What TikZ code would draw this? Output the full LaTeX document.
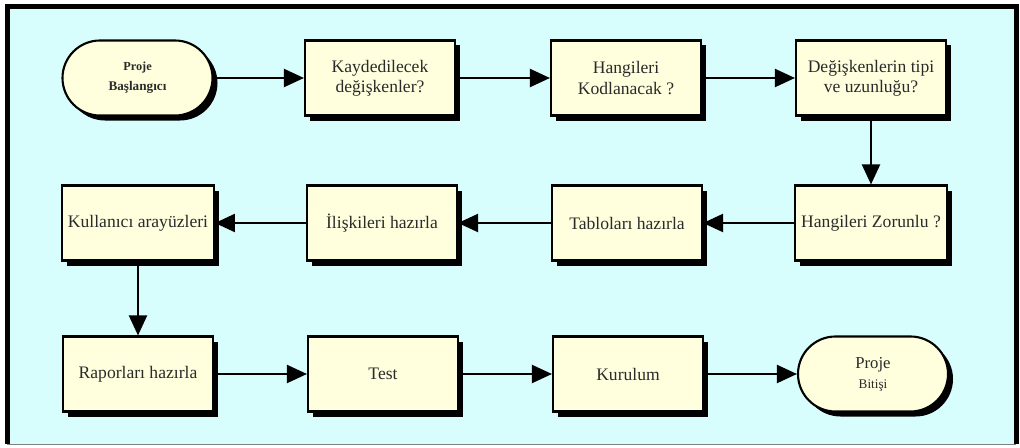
\documentclass[tikz,border=0pt]{standalone}
\usepackage{fontspec}
\setmainfont{Liberation Serif}
\usepackage{xcolor}
\definecolor{fond}{HTML}{D8FDFD}
\definecolor{krem}{HTML}{FFFFDE}
\definecolor{yazi}{HTML}{2A2A2A}
\usepackage{tikz}
\usetikzlibrary{arrows.meta,shadows}

\begin{document}
\begin{tikzpicture}[
  kutu/.style={draw=black,fill=krem,line width=1.2pt,minimum width=3cm,minimum height=1.5cm,
    font=\fontsize{10}{11.5}\selectfont,text=yazi,align=center,
    general shadow={fill=black,shadow xshift=0.1cm,shadow yshift=-0.1cm}},
  uc/.style={kutu,rounded corners=0.75cm},
  ok/.style={-{Triangle[length=4mm,width=3.6mm]},line width=1.2pt,black}
]
\useasboundingbox (0,0) rectangle (20.4,8.94);
% cerceve
\fill[white] (0,0) rectangle (20.4,8.94);
\fill[fond] (0.15,0.06) rectangle (20.32,8.8);
\draw[gray,thin] (0.15,0.06) -- (20.32,0.06);
\draw[line width=0.1cm] (0.15,0.06) -- (0.15,8.8) -- (20.32,8.8) -- (20.32,0.06);
% ust sira
\node[uc] (bas) at (2.75,7.38) {\fontsize{7}{9}\selectfont\bfseries Proje\\\fontsize{7.5}{9}\selectfont\bfseries Başlangıcı};
\node[kutu] (kay) at (7.6,7.38) {Kaydedilecek\\değişkenler?};
\node[kutu] (kod) at (12.52,7.38) {Hangileri\\Kodlanacak ?};
\node[kutu] (tip) at (17.42,7.38) {Değişkenlerin tipi\\ve uzunluğu?};
% orta sira
\node[kutu] (zor) at (17.42,4.48) {Hangileri Zorunlu ?};
\node[kutu] (tab) at (12.54,4.48) {Tabloları hazırla};
\node[kutu] (ili) at (7.64,4.48) {İlişkileri hazırla};
\node[kutu] (ara) at (2.76,4.48) {Kullanıcı arayüzleri};
% alt sira
\node[kutu] (rap) at (2.76,1.46) {Raporları hazırla};
\node[kutu] (tes) at (7.66,1.46) {Test};
\node[kutu] (kur) at (12.56,1.46) {Kurulum};
\node[uc] (bit) at (17.46,1.46) {\fontsize{9.5}{11}\selectfont Proje\\\fontsize{7.5}{9}\selectfont Bitişi};
% oklar
\draw[ok] (bas)--(kay); \draw[ok] (kay)--(kod); \draw[ok] (kod)--(tip);
\draw[ok] (tip)--(zor); \draw[ok] (zor)--(tab); \draw[ok] (tab)--(ili);
\draw[ok] (ili)--(ara); \draw[ok] (ara)--(rap); \draw[ok] (rap)--(tes);
\draw[ok] (tes)--(kur); \draw[ok] (kur)--(bit);
\end{tikzpicture}
\end{document}
